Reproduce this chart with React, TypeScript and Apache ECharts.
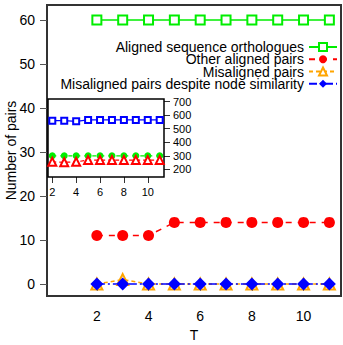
import React, { useEffect, useRef } from "react";
import * as echarts from "echarts";

const T = [2, 3, 4, 5, 6, 7, 8, 9, 10, 11];
const alignedOrthologues = [60, 60, 60, 60, 60, 60, 60, 60, 60, 60];
const otherAligned = [11, 11, 11, 14, 14, 14, 14, 14, 14, 14];
const misaligned = [0, 1, 0, 0, 0, 0, 0, 0, 0, 0];
const misalignedDespite = [0, 0, 0, 0, 0, 0, 0, 0, 0, 0];

const insetBlue = [560, 560, 555, 565, 565, 565, 565, 565, 565, 565];
const insetGreen = [300, 300, 300, 300, 300, 300, 300, 300, 300, 300];
const insetRed = [255, 252, 255, 268, 268, 268, 268, 268, 268, 268];

const mainYTicks = [0, 10, 20, 30, 40, 50, 60];
const mainXTicks = [2, 4, 6, 8, 10];
const insetYTicks = [200, 300, 400, 500, 600, 700];
const insetXTicks = [2, 4, 6, 8, 10];

const names = [
  "Aligned sequence orthologues",
  "Other aligned pairs",
  "Misaligned pairs",
  "Misaligned pairs despite node similarity",
];

const FONT = "Liberation Sans, Arial, Helvetica, sans-serif";

const pairs = (xs: number[], ys: number[]) => xs.map((x, i) => [x, ys[i]]);

export default function App() {
  const ref = useRef<HTMLDivElement>(null);
  useEffect(() => {
    const chart = echarts.init(ref.current!, null, { renderer: "svg" });
    const legendTops = [40, 52.3, 64.5, 76.7];
    const option: any = {
      animation: false,
      backgroundColor: "#fff",
      textStyle: { fontFamily: FONT },
      grid: [
        {
          left: 47, top: 5, width: 294, height: 291, containLabel: false, outerBoundsMode: "none",
          show: true, borderColor: "#333", borderWidth: 2, backgroundColor: "transparent",
        },
        {
          left: 48, top: 99, width: 116, height: 78, z: 10, containLabel: false, outerBoundsMode: "none",
          show: true, borderColor: "#000", borderWidth: 1.5, backgroundColor: "#fff",
        },
      ],
      legend: names.map((n, i) => ({
        data: [n],
        right: 5,
        top: legendTops[i],
        padding: 0,
        align: "right",
        itemWidth: 28,
        itemHeight: 10,
        itemGap: 0,
        selectedMode: false,
        textStyle: { fontSize: 14, color: "#000", fontFamily: FONT, lineHeight: 10 },
      })),
      xAxis: [
        {
          type: "value", gridIndex: 0, min: 0.07, max: 11.45,
          name: "T", nameLocation: "middle", nameGap: 32, nameMoveOverlap: false,
          nameTextStyle: { fontSize: 14, color: "#000", fontFamily: FONT },
          axisLine: { show: false },
          splitLine: { show: false },
          axisTick: { show: true, length: 7, inside: false, customValues: mainXTicks, lineStyle: { color: "#555" } },
          axisLabel: { customValues: mainXTicks, fontSize: 14, color: "#000", margin: 13, fontFamily: FONT },
        },
        {
          type: "value", gridIndex: 1, min: 1.64, max: 11.36,
          axisLine: { show: false },
          splitLine: { show: false },
          axisTick: { show: true, length: 6, customValues: insetXTicks, lineStyle: { color: "#333" } },
          axisLabel: { customValues: insetXTicks, fontSize: 11, color: "#000", margin: 9, fontFamily: FONT, showMinLabel: true },
        },
      ],
      yAxis: [
        {
          type: "value", gridIndex: 0, min: -2.73, max: 63.4,
          name: "Number of pairs", nameLocation: "middle", nameGap: 29, nameMoveOverlap: false,
          nameTextStyle: { fontSize: 14, color: "#000", fontFamily: FONT },
          axisLine: { show: false },
          splitLine: { show: false },
          axisTick: { show: true, length: 7, customValues: mainYTicks, lineStyle: { color: "#555" } },
          axisLabel: { customValues: mainYTicks, fontSize: 14, color: "#000", margin: 12, fontFamily: FONT },
        },
        {
          type: "value", gridIndex: 1, min: 143, max: 720, position: "right",
          axisLine: { show: false },
          splitLine: { show: false },
          axisTick: { show: true, length: 6, customValues: insetYTicks, lineStyle: { color: "#333" } },
          axisLabel: { customValues: insetYTicks, fontSize: 11, color: "#000", margin: 9, fontFamily: FONT },
        },
      ],
      series: [
        {
          name: names[0], type: "line", xAxisIndex: 0, yAxisIndex: 0,
          data: pairs(T, alignedOrthologues),
          symbol: "emptyRect", symbolSize: 9,
          lineStyle: { color: "#00ee00", width: 1.5, type: "solid" },
          itemStyle: { color: "#00ee00", borderColor: "#00ee00", borderWidth: 1.5 },
        },
        {
          name: names[1], type: "line", xAxisIndex: 0, yAxisIndex: 0,
          data: pairs(T, otherAligned),
          symbol: "circle", symbolSize: 11,
          lineStyle: { color: "#ff0000", width: 1.5, type: [6, 6] },
          itemStyle: { color: "#ff0000" },
        },
        {
          name: names[2], type: "line", xAxisIndex: 0, yAxisIndex: 0,
          data: pairs(T, misaligned),
          symbol: "emptyTriangle", symbolSize: 11,
          lineStyle: { color: "#ffa500", width: 1.5, type: [4, 3] },
          itemStyle: { color: "#ffa500", borderColor: "#ffa500", borderWidth: 1.5 },
        },
        {
          name: names[3], type: "line", xAxisIndex: 0, yAxisIndex: 0,
          data: pairs(T, misalignedDespite),
          symbol: "diamond", symbolSize: 13,
          lineStyle: { color: "#0000ff", width: 1.5, type: [8, 3, 2, 3] },
          itemStyle: { color: "#0000ff" },
        },
        {
          name: "inset-blue", type: "line", xAxisIndex: 1, yAxisIndex: 1, z: 12,
          data: pairs(T, insetBlue),
          symbol: "emptyRect", symbolSize: 6,
          lineStyle: { color: "#0000ff", width: 1.2, type: "solid" },
          itemStyle: { color: "#0000ff", borderColor: "#0000ff", borderWidth: 1.2 },
        },
        {
          name: "inset-green", type: "line", xAxisIndex: 1, yAxisIndex: 1, z: 12,
          data: pairs(T, insetGreen),
          symbol: "circle", symbolSize: 7,
          lineStyle: { color: "#00ee00", width: 1.2, type: [4, 4] },
          itemStyle: { color: "#00ee00" },
        },
        {
          name: "inset-red", type: "line", xAxisIndex: 1, yAxisIndex: 1, z: 12,
          data: pairs(T, insetRed),
          symbol: "emptyTriangle", symbolSize: 8,
          lineStyle: { color: "#ff0000", width: 1.2, type: [4, 3] },
          itemStyle: { color: "#ff0000", borderColor: "#ff0000", borderWidth: 1.2 },
        },
      ],
    };
    chart.setOption(option);
    return () => chart.dispose();
  }, []);
  return <div ref={ref} style={{ width: 343, height: 345, position: "absolute", left: 0, top: 0 }} />;
}
